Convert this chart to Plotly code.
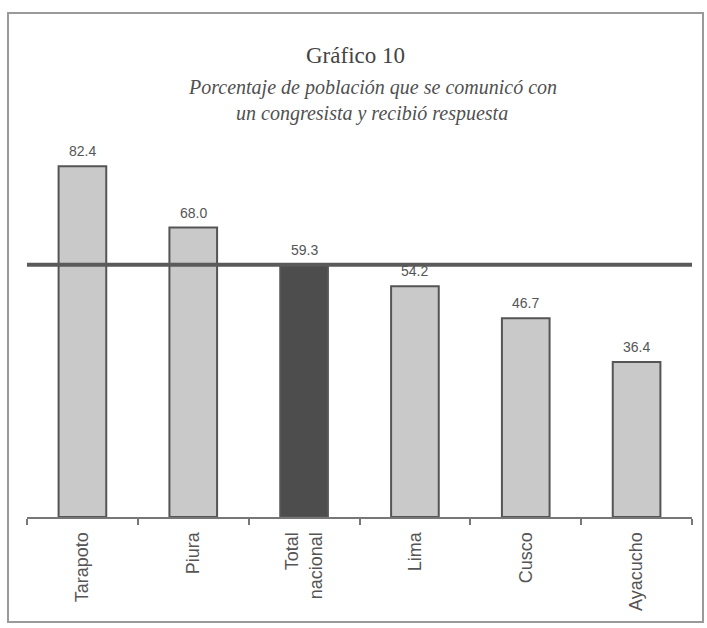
import plotly.graph_objects as go

# Data
categories = ["Tarapoto", "Piura", "Total<br>nacional", "Lima", "Cusco", "Ayacucho"]
values = [82.4, 68.0, 59.3, 54.2, 46.7, 36.4]
national_value = 59.3
bar_colors = ["#c9c9c9", "#c9c9c9", "#4d4d4d", "#c9c9c9", "#c9c9c9", "#c9c9c9"]
value_labels = [f"{v:.1f}" for v in values]

W, H = 707, 628
L, R, T, B = 27, 15, 134, 111
Y_MAX = 90

plot_w = W - L - R
plot_h = H - T - B


def px_x(px):
    return (px - L) / plot_w


def px_y(py):
    return (H - B - py) / plot_h


fig = go.Figure()

fig.add_trace(go.Bar(
    x=categories,
    y=values,
    marker=dict(color=bar_colors, line=dict(color="#555555", width=2)),
    hoverinfo="skip",
    width=0.43,
))

# Value labels above each bar
for cat, val, lab in zip(categories, values, value_labels):
    fig.add_annotation(x=cat, y=val, text=lab, showarrow=False,
                       yanchor="bottom", yshift=5,
                       font=dict(family="Liberation Sans", size=14, color="#555555"))

# National reference line
fig.add_shape(type="line", xref="paper", yref="y",
              x0=0, x1=1, y0=national_value, y1=national_value,
              line=dict(color="#5a5a5a", width=4), layer="above")

# Outer frame
fig.add_shape(type="rect", xref="paper", yref="paper",
              x0=px_x(8), x1=px_x(703), y0=px_y(622), y1=px_y(13),
              line=dict(color="#9a9a9a", width=2), fillcolor="rgba(0,0,0,0)",
              layer="below")

fig.add_annotation(text="Gráfico 10", xref="paper", yref="paper",
                   x=px_x(355), y=px_y(41), showarrow=False,
                   font=dict(family="Liberation Serif", size=23, color="#444444"))
fig.add_annotation(text="<i>Porcentaje de población que se comunicó con</i>",
                   xref="paper", yref="paper",
                   x=px_x(372), y=px_y(74), showarrow=False,
                   font=dict(family="Liberation Serif", size=20, color="#505050"))
fig.add_annotation(text="<i>un congresista y recibió respuesta</i>",
                   xref="paper", yref="paper",
                   x=px_x(372), y=px_y(100), showarrow=False,
                   font=dict(family="Liberation Serif", size=20, color="#505050"))

fig.update_layout(
    width=W, height=H,
    margin=dict(l=L, r=R, t=T, b=B, pad=0),
    paper_bgcolor="white", plot_bgcolor="white",
    showlegend=False,
    bargap=0.57,
    xaxis=dict(
        showline=True, linecolor="#777777", linewidth=2,
        ticks="outside", tickson="boundaries", ticklen=6,
        tickcolor="#777777", tickwidth=1.5,
        tickangle=-90, ticklabelstandoff=6,
        tickfont=dict(family="Liberation Sans", size=18, color="#555555"),
        showgrid=False, fixedrange=True,
    ),
    yaxis=dict(range=[0, Y_MAX], visible=False, showgrid=False, fixedrange=True),
)

fig.write_html("out.html")
